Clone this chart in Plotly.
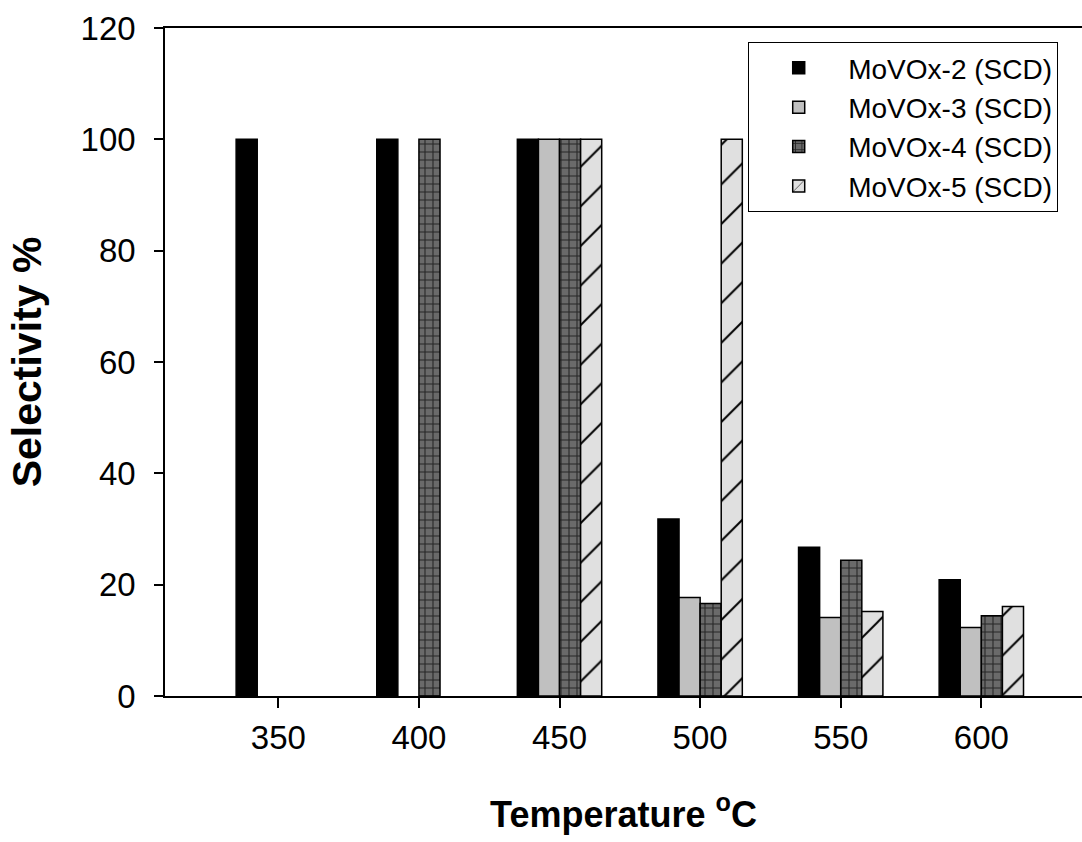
import plotly.graph_objects as go

# Reaction temperature (°C) and selectivity (%) per catalyst
temperatures = ["350", "400", "450", "500", "550", "600"]
movox2 = [100, 100, 100, 31.8, 26.7, 20.9]
movox3 = [None, None, 100, 17.7, 14.1, 12.3]
movox4 = [None, 100, 100, 16.6, 24.4, 14.4]
movox5 = [None, None, 100, 100, 15.2, 16.1]

series_names = ["MoVOx-2 (SCD)", "MoVOx-3 (SCD)", "MoVOx-4 (SCD)", "MoVOx-5 (SCD)"]
series_values = [movox2, movox3, movox4, movox5]

fills = [
    dict(color="#000000", pattern=dict(shape="")),
    dict(color="#c0c0c0", pattern=dict(shape="")),
    dict(color="#6a6a6a", pattern=dict(shape="+", fgcolor="#262626", bgcolor="#6a6a6a",
                                       size=8, solidity=0.25, fillmode="replace")),
    dict(color="#e0e0e0", pattern=dict(shape="/", fgcolor="#000000", bgcolor="#e0e0e0",
                                       size=28, solidity=0.07, fillmode="replace")),
]

fig = go.Figure()
for name, vals, fill in zip(series_names, series_values, fills):
    fig.add_trace(go.Bar(
        x=temperatures, y=vals, name=name,
        marker=dict(color=fill["color"], pattern=fill["pattern"],
                    line=dict(color="#000000", width=1.5)),
    ))

font_family = "Liberation Sans, Arial, sans-serif"

fig.update_layout(
    width=1082, height=842,
    margin=dict(l=165, r=0, t=28, b=146),
    paper_bgcolor="white", plot_bgcolor="white",
    barmode="group", bargap=0.4, bargroupgap=0,
    font=dict(family=font_family, color="black", size=33),
    showlegend=True,
    legend=dict(
        x=0.636, y=0.979, xanchor="left", yanchor="top",
        bgcolor="white", bordercolor="black", borderwidth=1,
        font=dict(size=28, family=font_family, color="black"),
        tracegroupgap=0, itemwidth=89,
    ),
    xaxis=dict(
        type="category", range=[-0.806, 5.716],
        showline=True, linecolor="black", linewidth=1.5, mirror=True,
        ticks="outside", ticklen=10, tickwidth=1.5, tickcolor="black",
        tickfont=dict(size=33), ticklabelstandoff=2, showgrid=False, zeroline=False,
        title=dict(text="<b>Temperature <sup>o</sup>C</b>", font=dict(size=36), standoff=46),
    ),
    yaxis=dict(
        range=[0, 120], dtick=20, tick0=0,
        showline=True, linecolor="black", linewidth=1.5, mirror=False,
        ticks="outside", ticklen=9, tickwidth=1.5, tickcolor="black",
        tickfont=dict(size=33), ticklabelstandoff=12, showgrid=False, zeroline=False,
        title=dict(text="<b>Selectivity %</b>", font=dict(size=41), standoff=26),
    ),
)

fig.write_html("out.html")
